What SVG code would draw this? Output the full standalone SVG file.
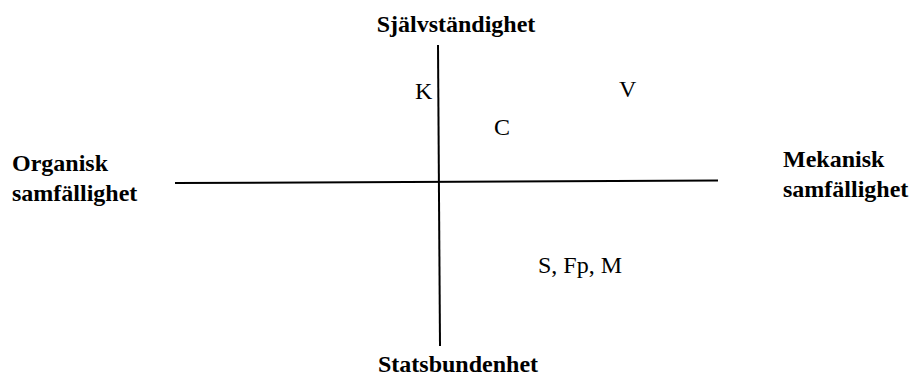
<svg xmlns="http://www.w3.org/2000/svg" width="915" height="378" viewBox="0 0 915 378">
<style>
.ax{stroke:#000;stroke-width:2;fill:none}
.b{font-family:"Liberation Serif","Times New Roman","DejaVu Serif",serif;font-weight:bold;font-size:24px;fill:#000}
.r{font-family:"Liberation Serif","Times New Roman","DejaVu Serif",serif;font-size:24px;fill:#000}
</style>
<rect width="915" height="378" fill="#fff"/>
<g id="axes">
<line class="ax" x1="438" y1="45" x2="440" y2="346"/>
<line class="ax" x1="175" y1="183" x2="718" y2="180.5"/>
</g>
<g id="top"><text class="b" x="456" y="32" text-anchor="middle">Självständighet</text></g>
<g id="bottom"><text class="b" x="458" y="372" text-anchor="middle">Statsbundenhet</text></g>
<g id="left"><text class="b" x="12" y="171">Organisk</text><text class="b" x="12" y="201">samfällighet</text></g>
<g id="right"><text class="b" x="783" y="167">Mekanisk</text><text class="b" x="783" y="197">samfällighet</text></g>
<g id="K"><text class="r" x="415" y="99">K</text></g>
<g id="C"><text class="r" x="494" y="135">C</text></g>
<g id="V"><text class="r" x="619" y="97">V</text></g>
<g id="SFpM"><text class="r" x="538" y="273">S, Fp, M</text></g>
</svg>
